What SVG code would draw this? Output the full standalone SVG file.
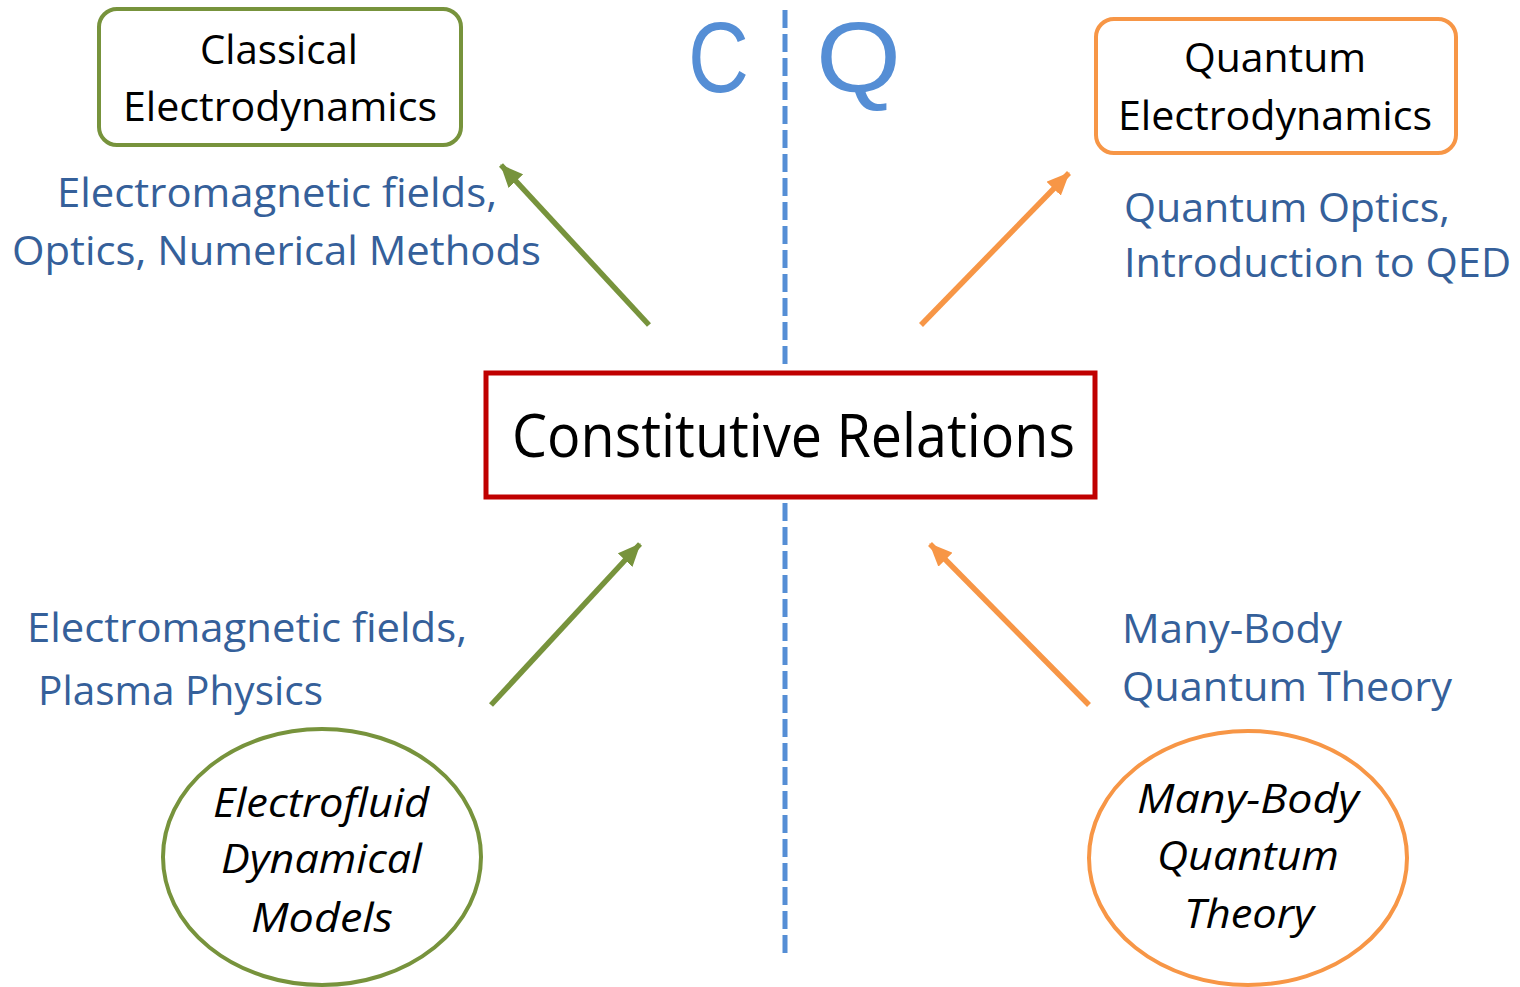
<svg xmlns="http://www.w3.org/2000/svg" width="1520" height="987" viewBox="0 0 1520 987">
<style>
.t{font-family:"Open Sans","Noto Sans","Liberation Sans",sans-serif;}
.blk{fill:#000000;}
.lbl{fill:#35609a;font-size:41px;}
.box{font-size:41px;}
.it{font-size:41px;font-style:italic;}
.cq{fill:#558ed5;font-size:101px;font-family:"Liberation Sans",Arial,sans-serif;}
.dash{stroke:#558ed5;stroke-width:5;stroke-dasharray:18 6;fill:none;}
.ag{stroke:#77933c;stroke-width:5.5;fill:none;}
.ao{stroke:#f79646;stroke-width:5.5;fill:none;}
</style>
<defs>
<marker id="hg" markerUnits="userSpaceOnUse" markerWidth="24" markerHeight="20" refX="22" refY="10" orient="auto" viewBox="0 0 24 20">
<path d="M0,0 L23,10 L0,20 z" fill="#77933c"/>
</marker>
<marker id="ho" markerUnits="userSpaceOnUse" markerWidth="24" markerHeight="20" refX="22" refY="10" orient="auto" viewBox="0 0 24 20">
<path d="M0,0 L23,10 L0,20 z" fill="#f79646"/>
</marker>
</defs>
<rect width="1520" height="987" fill="#ffffff"/>
<g id="divider">
<line class="dash" x1="785" y1="10" x2="785" y2="366"/>
<line class="dash" x1="785" y1="503" x2="785" y2="956"/>
</g>
<g id="cq-labels">
<text class="cq" x="688" y="92" textLength="61" lengthAdjust="spacingAndGlyphs">C</text>
<text class="cq" x="816" y="92" textLength="85" lengthAdjust="spacingAndGlyphs">Q</text>
</g>
<g id="connectors">
<line class="ag" x1="649" y1="325" x2="501" y2="165" marker-end="url(#hg)"/>
<line class="ao" x1="921" y1="325" x2="1069" y2="173" marker-end="url(#ho)"/>
<line class="ag" x1="491" y1="705" x2="640" y2="544" marker-end="url(#hg)"/>
<line class="ao" x1="1089" y1="705" x2="930" y2="544" marker-end="url(#ho)"/>
</g>
<g id="center">
<rect x="486" y="373" width="609" height="124" fill="#ffffff" stroke="#c00000" stroke-width="5"/>
<text class="t blk" x="512" y="457" font-size="61" textLength="563" lengthAdjust="spacingAndGlyphs">Constitutive Relations</text>
</g>
<g id="classical">
<rect x="99" y="9" width="362" height="136" rx="18" fill="#ffffff" stroke="#77933c" stroke-width="4"/>
<text class="t blk box" x="200" y="64" textLength="158" lengthAdjust="spacingAndGlyphs">Classical</text>
<text class="t blk box" x="123" y="121" textLength="314" lengthAdjust="spacingAndGlyphs">Electrodynamics</text>
</g>
<g id="quantum">
<rect x="1096" y="19" width="360" height="134" rx="18" fill="#ffffff" stroke="#f79646" stroke-width="4"/>
<text class="t blk box" x="1184" y="72" textLength="182" lengthAdjust="spacingAndGlyphs">Quantum</text>
<text class="t blk box" x="1118" y="130" textLength="314" lengthAdjust="spacingAndGlyphs">Electrodynamics</text>
</g>
<g id="label-tl">
<text class="t lbl" x="57" y="207" textLength="440" lengthAdjust="spacingAndGlyphs">Electromagnetic fields,</text>
<text class="t lbl" x="12" y="265" textLength="529" lengthAdjust="spacingAndGlyphs">Optics, Numerical Methods</text>
</g>
<g id="label-tr">
<text class="t lbl" x="1124" y="222" textLength="326" lengthAdjust="spacingAndGlyphs">Quantum Optics,</text>
<text class="t lbl" x="1124" y="277" textLength="387" lengthAdjust="spacingAndGlyphs">Introduction to QED</text>
</g>
<g id="label-bl">
<text class="t lbl" x="27" y="642" textLength="440" lengthAdjust="spacingAndGlyphs">Electromagnetic fields,</text>
<text class="t lbl" x="38" y="705" textLength="285" lengthAdjust="spacingAndGlyphs">Plasma Physics</text>
</g>
<g id="label-br">
<text class="t lbl" x="1122" y="643" textLength="220" lengthAdjust="spacingAndGlyphs">Many-Body</text>
<text class="t lbl" x="1122" y="701" textLength="330" lengthAdjust="spacingAndGlyphs">Quantum Theory</text>
</g>
<g id="electrofluid">
<ellipse cx="322" cy="857" rx="159" ry="128" fill="#ffffff" stroke="#77933c" stroke-width="4"/>
<text class="t blk it" x="213" y="817" textLength="216" lengthAdjust="spacingAndGlyphs">Electrofluid</text>
<text class="t blk it" x="221" y="873" textLength="201" lengthAdjust="spacingAndGlyphs">Dynamical</text>
<text class="t blk it" x="251" y="932" textLength="142" lengthAdjust="spacingAndGlyphs">Models</text>
</g>
<g id="manybody">
<ellipse cx="1248" cy="858" rx="159" ry="127" fill="#ffffff" stroke="#f79646" stroke-width="4"/>
<text class="t blk it" x="1137" y="813" textLength="222" lengthAdjust="spacingAndGlyphs">Many-Body</text>
<text class="t blk it" x="1157" y="870" textLength="182" lengthAdjust="spacingAndGlyphs">Quantum</text>
<text class="t blk it" x="1184" y="928" textLength="130" lengthAdjust="spacingAndGlyphs">Theory</text>
</g>
</svg>
